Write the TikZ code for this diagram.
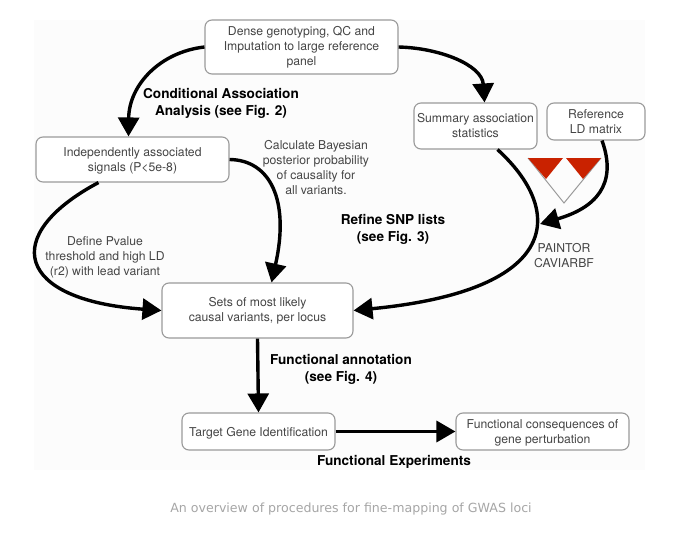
\documentclass[tikz,border=0pt]{standalone}
\usepackage{fontspec}
\setmainfont{TeX Gyre Heros}
\newfontfamily\captionfont{DejaVu Sans}
\usetikzlibrary{arrows.meta}
\definecolor{boxgray}{HTML}{9A9A9A}
\definecolor{textgray}{HTML}{454545}
\definecolor{ldred}{HTML}{C92200}
\tikzset{
	stepbox/.style = {draw = boxgray, line width = 1.1pt, rounded corners = 7pt, fill = white, inner sep = 1pt, align = center, text = textgray, font = \fontsize{12.2}{15}\selectfont},
	note/.style = {align = center, text = textgray, inner sep = 0pt, font = \fontsize{12.2}{15}\selectfont},
	head/.style = {align = center, text = black, inner sep = 0pt, font = \fontsize{13.6}{17}\selectfont\bfseries},
	flow/.style = {line width = 3.4pt, -{Triangle[length = 19pt, width = 21pt]}}
}
\begin{document}
\begin{tikzpicture}[x=1pt,y=-1pt]
	\useasboundingbox (0,0) rectangle (678,533);
	\fill[white] (0,0) rectangle (678,533);
	\fill[black!1] (34,20) rectangle (645,470);

	% boxes
	\node (Dense) at (301.5, 47)	[stepbox, minimum width = 193pt, minimum height = 54pt]	{Dense genotyping, QC and\\Imputation to large reference\\panel};
	\node (Signals) at (132.5, 159.5)	[stepbox, minimum width = 193pt, minimum height = 45pt, text depth = 0pt]	{Independently associated\\signals (P<5e-8)};
	\node (Summary) at (475.5, 126)	[stepbox, minimum width = 123pt, minimum height = 46pt]	{Summary association\\statistics};
	\node (LDmatrix) at (596, 121.5)	[stepbox, minimum width = 98pt, minimum height = 37pt]	{Reference\\LD matrix};
	\node (Causal) at (257.5, 310.5)	[stepbox, minimum width = 191pt, minimum height = 55pt]	{Sets of most likely\\causal variants, per locus};
	\node (Target) at (258.5, 431.5)	[stepbox, minimum width = 153pt, minimum height = 37pt, text depth = 0pt]	{Target Gene Identification};
	\node (Effects) at (542.5, 431.5)	[stepbox, minimum width = 173pt, minimum height = 37pt, text depth = 0pt]	{Functional consequences of\\gene perturbation};

	% LD triangle
	\draw[boxgray, line width = 1pt] (528,158) -- (564,203) -- (601,158);
	\fill[ldred] (528,158) -- (563,158) -- (546,179) -- cycle;
	\fill[ldred] (566,158) -- (601,158) -- (583,179) -- cycle;

	% labels
	\node (LabelCond) at (221, 103)	[head]	{Conditional Association\\Analysis (see Fig. 2)};
	\node (LabelBayes) at (316, 168)	[note]	{Calculate Bayesian\\posterior probability\\of causality for\\all variants.};
	\node (LabelRefine) at (393, 229)	[head]	{Refine SNP lists\\(see Fig. 3)};
	\node (LabelPvalue) at (105, 257)	[note]	{Define Pvalue\\threshold and high LD\\(r2) with lead variant};
	\node (LabelTools) at (564, 256)	[note]	{PAINTOR\\CAVIARBF};
	\node (LabelAnnot) at (341, 369.5)	[head]	{Functional annotation\\(see Fig. 4)};
	\node (LabelExp) at (394, 461.5)	[head]	{Functional Experiments};
	\node (Caption) at (351, 509)	[inner sep = 0pt, text = black!35, font = \captionfont\fontsize{12.6}{15}\selectfont]	{An overview of procedures for fine-mapping of GWAS loci};

	% connectors
	\coordinate (LDend) at (540, 224);
	\draw[flow] (Dense.west) .. controls (160,52) and (129,85) .. ([xshift=-4pt]Signals.north);
	\draw[flow] (Dense.east) .. controls (440,48) and (482,65) .. ([xshift=9pt]Summary.north);
	\draw[flow] (Signals.east) .. controls (270,160) and (290,200) .. ([xshift=14pt]Causal.north);
	\draw[flow] ([xshift=-34pt]Signals.south) .. controls (0,235) and (15,300) .. (Causal.west);
	\draw[flow] ([xshift=22pt]Summary.south) .. controls (564,210) and (564,290) .. (Causal.east);
	\draw[flow] ([xshift=6pt]LDmatrix.south) .. controls (618,185) and (595,208) .. (LDend);
	\draw[flow] (Causal.south) -- (Target.north);
	\draw[flow] (Target.east) -- (Effects.west);
\end{tikzpicture}
\end{document}
